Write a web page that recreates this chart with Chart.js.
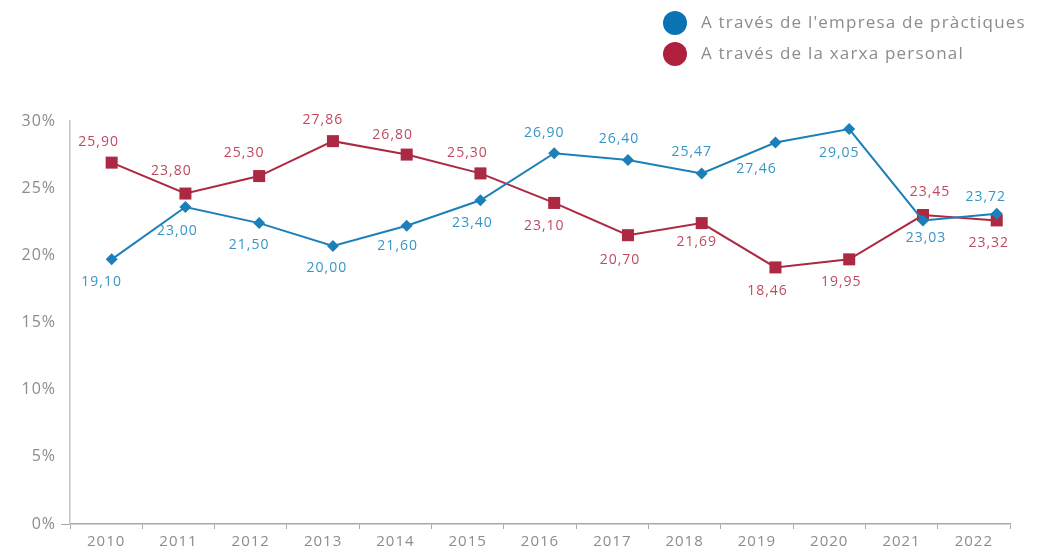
<!DOCTYPE html>
<html>
<head>
<meta charset="utf-8">
<script src="https://cdn.jsdelivr.net/npm/chart.js@4/dist/chart.umd.min.js"></script>
<style>
  html, body { margin: 0; padding: 0; background: #ffffff; }
  #wrap { width: 1038px; height: 557px; position: relative; }
</style>
</head>
<body>
<div id="wrap"><canvas id="chart"></canvas></div>
<script>
// Years on the x axis
const years = ['2010', '2011', '2012', '2013', '2014', '2015', '2016', '2017', '2018', '2019', '2020', '2021', '2022'];

// Series names
const blueName = "A través de l'empresa de pràctiques";
const redName = 'A través de la xarxa personal';

// Plotted values
const blueValues = [19.7, 23.6, 22.4, 20.7, 22.2, 24.1, 27.6, 27.1, 26.1, 28.4, 29.4, 22.6, 23.1];
const redValues = [26.9, 24.6, 25.9, 28.5, 27.5, 26.1, 23.9, 21.5, 22.4, 19.1, 19.7, 23.0, 22.6];

// Printed value labels
const blueLabels = ['19,10', '23,00', '21,50', '20,00', '21,60', '23,40', '26,90', '26,40', '25,47', '27,46', '29,05', '23,03', '23,72'];
const redLabels = ['25,90', '23,80', '25,30', '27,86', '26,80', '25,30', '23,10', '20,70', '21,69', '18,46', '19,95', '23,45', '23,32'];

// Y axis ticks
const yTicks = [0, 5, 10, 15, 20, 25, 30];

const FONT = "'Open Sans', 'Noto Sans', sans-serif";
const GREY = '#8c8c8c';
const BLUE = '#1b80b9';
const RED = '#ad2842';
const BLUE_TEXT = '#3796c6';
const RED_TEXT = '#bf4a60';

// label offsets from marker [dx, dy]
const blueOffsets = [[-10, 23], [-8, 24], [-10, 22], [-6, 22], [-9, 20], [-8, 23], [-10, -20], [-9, -21], [-10, -21], [-19, 27], [-10, 24], [3, 18], [-11, -17]];
const redOffsets = [[-13, -21], [-14, -23], [-15, -23], [-10, -21], [-14, -20], [-13, -20], [-10, 23], [-8, 25], [-5, 19], [-8, 24], [-8, 23], [7, -23], [-8, 23]];

// the source font runs wider than Open Sans, so space the letters a little
const spacingPlugin = {
    id: 'letterSpacing',
    beforeDraw: (chart) => { chart.ctx.letterSpacing = '1px'; }
};

const valueLabelPlugin = {
    id: 'valueLabels',
    afterDatasetsDraw: (chart) => {
        const c = chart.ctx;
        c.save();
        c.font = '14px ' + FONT;
        c.letterSpacing = '1px';
        c.textAlign = 'center';
        c.textBaseline = 'middle';
        chart.data.datasets.forEach((ds, di) => {
            const meta = chart.getDatasetMeta(di);
            const texts = di === 0 ? blueLabels : redLabels;
            const offs = di === 0 ? blueOffsets : redOffsets;
            c.fillStyle = di === 0 ? BLUE_TEXT : RED_TEXT;
            meta.data.forEach((pt, i) => {
                c.fillText(texts[i], pt.x + offs[i][0], pt.y + offs[i][1]);
            });
        });
        c.restore();
    }
};

const legendPlugin = {
    id: 'cornerLegend',
    afterDraw: (chart) => {
        const c = chart.ctx;
        c.save();
        c.font = '17px ' + FONT;
        c.letterSpacing = '1.2px';
        c.textAlign = 'left';
        c.textBaseline = 'middle';
        const items = [[blueName, '#0b72b3'], [redName, '#b01f3c']];
        items.forEach((it, i) => {
            const y = 23 + i * 31;
            c.beginPath();
            c.arc(675, y, 12, 0, Math.PI * 2);
            c.fillStyle = it[1];
            c.fill();
            c.fillStyle = GREY;
            c.fillText(it[0], 701, y);
        });
        c.restore();
    }
};

const toPoints = (vals) => vals.map((v, i) => ({ x: i, y: v }));

new Chart(document.getElementById('chart'), {
    type: 'line',
    data: {
        labels: years,
        datasets: [
            {
                label: blueName,
                data: toPoints(blueValues),
                xAxisID: 'xp',
                borderColor: BLUE,
                backgroundColor: BLUE,
                borderWidth: 2,
                pointStyle: 'rectRot',
                pointRadius: 6,
                pointBorderWidth: 0,
                tension: 0
            },
            {
                label: redName,
                data: toPoints(redValues),
                xAxisID: 'xp',
                borderColor: RED,
                backgroundColor: RED,
                borderWidth: 2,
                pointStyle: 'rect',
                pointRadius: 8.5,
                pointBorderWidth: 0,
                tension: 0
            }
        ]
    },
    plugins: [spacingPlugin, valueLabelPlugin, legendPlugin],
    options: {
        responsive: true,
        maintainAspectRatio: false,
        animation: false,
        layout: {
            padding: { top: 121, right: 28, left: 0, bottom: 0 }
        },
        plugins: {
            legend: { display: false },
            tooltip: { enabled: false }
        },
        scales: {
            x: {
                type: 'category',
                offset: true,
                afterFit: (scale) => { scale.height = 33; },
                border: { color: '#a8a8a8', width: 1.5 },
                grid: {
                    offset: true,
                    drawOnChartArea: false,
                    color: '#a8a8a8',
                    tickLength: 5
                },
                ticks: {
                    color: GREY,
                    font: { family: FONT, size: 15 },
                    maxRotation: 0,
                    padding: 4
                }
            },
            xp: {
                type: 'linear',
                display: false,
                min: -0.565,
                max: 12.18
            },
            y: {
                min: 0,
                max: 30,
                afterFit: (scale) => { scale.width = 70; },
                afterBuildTicks: (scale) => { scale.ticks = yTicks.map(v => ({ value: v })); },
                border: { color: '#c4c4c4', width: 1.5 },
                grid: {
                    drawOnChartArea: false,
                    color: (ctx) => ctx.tick && ctx.tick.value === 0 ? '#a8a8a8' : 'rgba(0,0,0,0)',
                    tickLength: 9
                },
                ticks: {
                    color: GREY,
                    font: { family: FONT, size: 16 },
                    padding: 5,
                    callback: (value) => value + '%'
                }
            }
        }
    }
});
</script>
</body>
</html>
